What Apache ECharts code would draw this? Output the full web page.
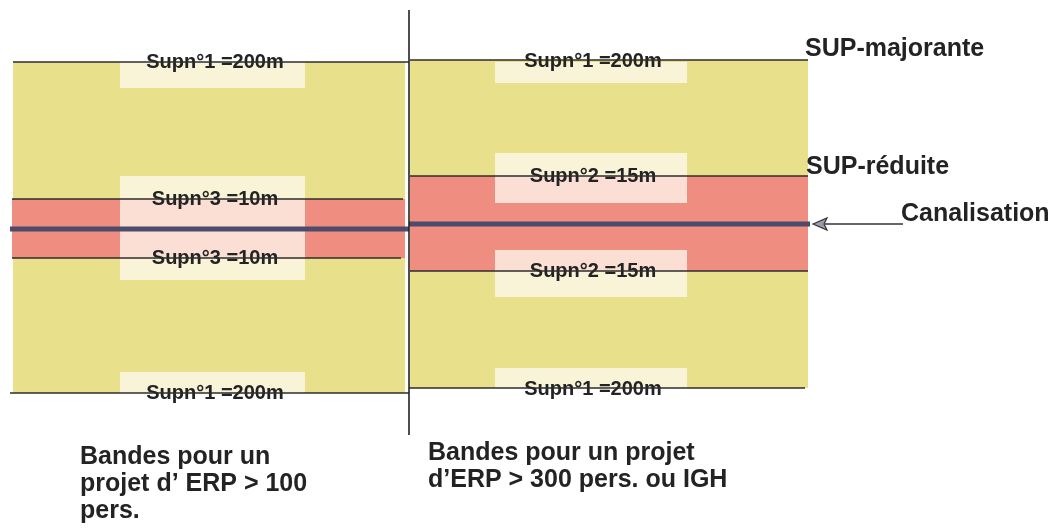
<!DOCTYPE html>
<html>
<head>
<meta charset="utf-8">
<script src="https://cdn.jsdelivr.net/npm/echarts@6/dist/echarts.min.js"></script>
<style>
html,body{margin:0;padding:0;background:#ffffff;}
#chart{width:1060px;height:531px;}
</style>
</head>
<body>
<div id="chart"></div>
<script>
// ---- Schematic data (axis units of the drawing) ----
const panelNames = ['Bandes pour un\nprojet d\u2019 ERP > 100\npers.', 'Bandes pour un projet\nd\u2019ERP > 300 pers. ou IGH'];
const zoneNames = ['SUP-majorante', 'SUP-réduite', 'Canalisation'];
const outerLabels = ['Supn°1 =200m', 'Supn°1 =200m'];
const innerLabels = ['Supn°3 =10m', 'Supn°2 =15m'];

// band extents per panel [left, right]
const panelStart = [13, 410];
const panelEnd = [405, 808];
const majorTop = [62, 60];        // SUP-majorante limit (200 m) above
const majorBottom = [393, 388];   // SUP-majorante limit (200 m) below
const reducedTop = [199, 176];    // SUP-réduite limit above (10 m / 15 m)
const reducedBottom = [258, 271]; // SUP-réduite limit below
const canalY = [229, 224];        // pipeline axis

// label boxes per panel
const boxStart = [120, 495];
const boxEnd = [305, 687];
const boxTop = [[62, 176, 372], [62, 153, 250, 368]];
const boxBottom = [[88, 280, 393], [83, 203, 297, 388]];

// label positions
const labelX = [215, 593];
const outerLabelY = [[62, 393], [61, 389]];
const innerLabelY = [[199, 258], [176, 271]];

const dividerX = 409;
const dividerSpan = [10, 435];

// ---- Build series data ----
const bandRects = [];
for (let i = 0; i < 2; i++) {
  bandRects.push([panelStart[i], panelEnd[i], majorTop[i], majorBottom[i], 0]);
  bandRects.push([panelStart[i] - (i === 0 ? 1 : 0), panelEnd[i], reducedTop[i], reducedBottom[i], 1]);
}
const boxRects = [];
for (let i = 0; i < 2; i++) {
  for (let k = 0; k < boxTop[i].length; k++) {
    boxRects.push([boxStart[i], boxEnd[i], boxTop[i][k], boxBottom[i][k]]);
  }
}
const limitLines = [];
for (let i = 0; i < 2; i++) {
  const s = panelStart[i], e = (i === 0 ? dividerX : panelEnd[i]);
  limitLines.push([s, e, majorTop[i]]);
  limitLines.push([s - (i === 0 ? 1 : 0), i === 0 ? 403 : e, reducedTop[i]]);
  limitLines.push([s - (i === 0 ? 1 : 0), i === 0 ? 401 : e, reducedBottom[i]]);
  limitLines.push([i === 0 ? 10 : dividerX, i === 0 ? dividerX : 805, majorBottom[i]]);
}
const canalLines = [[10, dividerX, canalY[0]], [dividerX, 810, canalY[1]]];

const bandLabels = [];
for (let i = 0; i < 2; i++) {
  bandLabels.push([labelX[i], outerLabelY[i][0], outerLabels[i]]);
  bandLabels.push([labelX[i], innerLabelY[i][0], innerLabels[i]]);
  bandLabels.push([labelX[i], innerLabelY[i][1], innerLabels[i]]);
  bandLabels.push([labelX[i], outerLabelY[i][1], outerLabels[i]]);
}
const sideLabels = [
  [805, 49, zoneNames[0]],
  [806, 167, zoneNames[1]],
  [901, 214, zoneNames[2]]
];
const panelTitles = [
  [80, 457, panelNames[0]],
  [428, 453, panelNames[1]]
];

const bandColors = ['#e8e08b', '#ee8d80'];
const FONT = '"Liberation Sans", Arial, Helvetica, sans-serif';
const INK = '#232323';

function rectItem(params, api, fill) {
  const p0 = api.coord([api.value(0), api.value(2)]);
  const p1 = api.coord([api.value(1), api.value(3)]);
  return {
    type: 'rect',
    shape: { x: p0[0], y: Math.min(p0[1], p1[1]), width: p1[0] - p0[0], height: Math.abs(p1[1] - p0[1]) },
    style: { fill: fill }
  };
}
function hLine(api, width, color) {
  const p0 = api.coord([api.value(0), api.value(2)]);
  const p1 = api.coord([api.value(1), api.value(2)]);
  return {
    type: 'line',
    shape: { x1: p0[0], y1: p0[1], x2: p1[0], y2: p1[1] },
    style: { stroke: color, lineWidth: width }
  };
}
function textItem(params, api, data, font, align, lh) {
  const d = data[params.dataIndex];
  const p = api.coord([d[0], d[1]]);
  return {
    type: 'text',
    x: p[0], y: p[1],
    style: {
      text: d[2], font: font, fill: INK,
      align: align, textAlign: align,
      verticalAlign: 'middle', textVerticalAlign: 'middle',
      lineHeight: lh
    }
  };
}

const chart = echarts.init(document.getElementById('chart'), null, { renderer: 'canvas' });
chart.setOption({
  animation: false,
  backgroundColor: '#ffffff',
  grid: { left: 0, right: 0, top: 0, bottom: 0 },
  xAxis: { type: 'value', min: 0, max: 1060, show: false },
  yAxis: { type: 'value', min: 0, max: 531, inverse: true, show: false },
  series: [
    {
      type: 'custom', name: 'bands', z: 1, silent: true,
      data: bandRects,
      renderItem: (params, api) => rectItem(params, api, bandColors[api.value(4)])
    },
    {
      type: 'custom', name: 'boxes', z: 2, silent: true,
      data: boxRects,
      renderItem: (params, api) => rectItem(params, api, 'rgba(255,251,240,0.75)')
    },
    {
      type: 'custom', name: 'bandLabels', z: 3, silent: true,
      data: bandLabels.map(d => [d[0], d[1]]),
      renderItem: (params, api) => textItem(params, api, bandLabels, 'bold 20px ' + FONT, 'center', 22)
    },
    {
      type: 'custom', name: 'limits', z: 4, silent: true,
      data: limitLines,
      renderItem: (params, api) => hLine(api, 1.6, '#2c2c2c')
    },
    {
      type: 'custom', name: 'canal', z: 5, silent: true,
      data: canalLines,
      renderItem: (params, api) => hLine(api, 5, '#4d4b6a')
    },
    {
      type: 'custom', name: 'divider', z: 6, silent: true,
      data: [[dividerX, dividerSpan[0], dividerSpan[1]]],
      renderItem: (params, api) => {
        const p0 = api.coord([api.value(0), api.value(1)]);
        const p1 = api.coord([api.value(0), api.value(2)]);
        return { type: 'line', shape: { x1: p0[0], y1: p0[1], x2: p1[0], y2: p1[1] }, style: { stroke: '#222', lineWidth: 1.6 } };
      }
    },
    {
      type: 'custom', name: 'arrow', z: 6, silent: true,
      data: [[813, 903, canalY[1]]],
      renderItem: (params, api) => {
        const tip = api.coord([api.value(0), api.value(2)]);
        const end = api.coord([api.value(1), api.value(2)]);
        return {
          type: 'group',
          children: [
            { type: 'line', shape: { x1: tip[0] + 12, y1: tip[1], x2: end[0], y2: end[1] }, style: { stroke: '#333', lineWidth: 1.6 } },
            { type: 'polygon', shape: { points: [[tip[0], tip[1]], [tip[0] + 14, tip[1] - 6], [tip[0] + 11, tip[1]], [tip[0] + 14, tip[1] + 6]] }, style: { fill: '#9a9cae', stroke: '#333', lineWidth: 1.2 } }
          ]
        };
      }
    },
    {
      type: 'custom', name: 'sideLabels', z: 7, silent: true,
      data: sideLabels.map(d => [d[0], d[1]]),
      renderItem: (params, api) => textItem(params, api, sideLabels, 'bold 25px ' + FONT, 'left', 28)
    },
    {
      type: 'custom', name: 'panelTitles', z: 7, silent: true,
      data: panelTitles.map(d => [d[0], d[1]]),
      renderItem: (params, api) => {
        const d = panelTitles[params.dataIndex];
        const p = api.coord([d[0], d[1]]);
        return {
          type: 'text', x: p[0], y: p[1] - 13,
          style: { text: d[2], font: 'bold 25px ' + FONT, fill: INK, align: 'left', textAlign: 'left', verticalAlign: 'top', textVerticalAlign: 'top', lineHeight: 27 }
        };
      }
    }
  ]
});
</script>
</body>
</html>
